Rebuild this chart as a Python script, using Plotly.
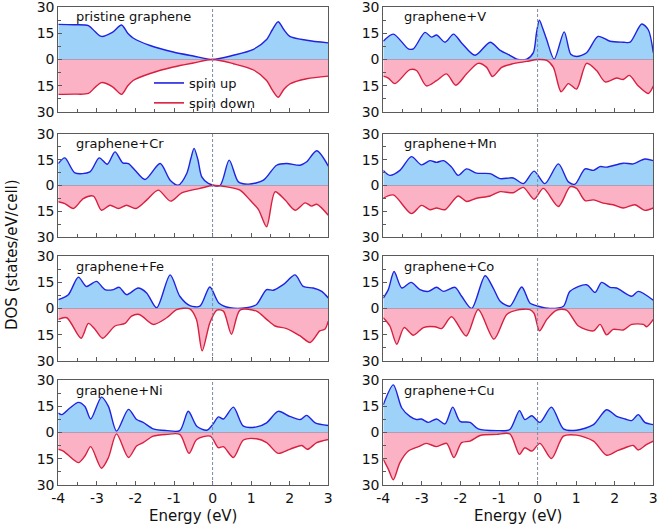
import plotly.graph_objects as go

# ---------------- data (energy in eV, DOS in states/eV/cell) ----------------
pg_up_e = [-4, -3.6, -3.22, -3.05, -2.88, -2.6, -2.36, -2.2, -2.06, -1.62, -1.02, -0.5, 0, 0.54, 1.06, 1.4, 1.55, 1.7, 1.85, 2.0, 2.44, 3]
pg_up_dos = [20.1, 19.9, 19.4, 16, 13.2, 15.5, 19.7, 15, 12.3, 8, 4.3, 2, 0, 2.4, 5.8, 11.4, 17, 21.6, 17, 13.2, 11, 9.5]
pg_dn_e = [-4, -3.6, -3.22, -3.05, -2.88, -2.6, -2.36, -2.2, -2.06, -1.62, -1.02, -0.5, 0, 0.54, 1.06, 1.4, 1.55, 1.7, 1.85, 2.0, 2.44, 3]
pg_dn_dos = [-19.9, -19.8, -19.4, -16, -13.2, -15.5, -19.9, -15, -12, -8, -4.3, -2, 0, -2.4, -6, -12, -17.5, -21.6, -17, -14, -11, -9.5]

v_up_e = [-4, -3.74, -3.35, -3.22, -2.92, -2.75, -2.62, -2.4, -2.18, -1.97, -1.62, -1.23, -0.97, -0.72, -0.54, -0.28, -0.11, -0.03, 0.045, 0.13, 0.235, 0.43, 0.69, 0.86, 1.01, 1.27, 1.57, 1.88, 2.22, 2.4, 2.7, 2.87, 3.0]
v_up_dos = [10.4, 14.5, 6.1, 6.1, 15.5, 12.8, 14, 9.9, 14.5, 9.5, 2.4, 9.9, 5.2, 2.4, 0.2, 0.2, 3.9, 15, 22.5, 18, 11.4, 0.2, 15.8, 3, 1.7, 3.9, 13.2, 10.4, 9.9, 9.9, 20.3, 17, 3.9]
v_dn_e = [-4, -3.87, -3.7, -3.31, -3.14, -2.88, -2.62, -2.36, -2.12, -1.84, -1.54, -1.32, -1.17, -0.93, -0.67, -0.28, 0.0, 0.24, 0.41, 0.61, 0.8, 1.01, 1.27, 1.53, 1.75, 2.05, 2.22, 2.38, 2.61, 2.87, 3.0]
v_dn_dos = [-9.5, -10.6, -13.8, -5.8, -6.3, -15.1, -12.1, -8.2, -14.7, -8.2, -2.2, -4.5, -9.7, -4.5, -2.6, -1.1, 0, -0.5, -4.5, -18.4, -13.8, -16.9, -2.2, -6.3, -12.8, -10.6, -11.4, -9.1, -15.1, -19.4, -15.1]

cr_up_e = [-4, -3.83, -3.57, -3.18, -2.94, -2.73, -2.53, -2.33, -2.18, -2.01, -1.75, -1.36, -1.1, -0.89, -0.67, -0.56, -0.48, -0.38, -0.28, -0.11, 0.19, 0.43, 0.67, 0.93, 1.32, 1.66, 1.92, 2.27, 2.44, 2.7, 3.0]
cr_up_dos = [12.8, 16.1, 7.4, 8, 16.1, 12.4, 19.6, 13.2, 12.8, 8.9, 3.5, 12.8, 3.1, 0.2, 7, 16, 21.6, 15, 5, 1.2, 0, 14.8, 2.1, 0.8, 3.1, 11.8, 12.8, 11.8, 13.8, 20.2, 11.3]
cr_dn_e = [-4, -3.83, -3.61, -3.35, -3.09, -2.88, -2.66, -2.44, -2.23, -1.99, -1.71, -1.41, -1.09, -0.8, -0.33, 0, 0.37, 0.71, 0.97, 1.19, 1.4, 1.62, 1.88, 2.14, 2.4, 2.57, 2.7, 3.0]
cr_dn_dos = [-9.5, -10.5, -13.4, -7.6, -6.2, -14.4, -11.5, -13.4, -11.5, -13.4, -8.5, -2.7, -9.1, -4.3, -1.7, 0, -0.8, -2.7, -8.5, -14, -24, -3.7, -8.5, -14.4, -10.1, -12, -10.9, -17.3]

mn_up_e = [-4, -3.83, -3.57, -3.27, -3.01, -2.79, -2.62, -2.44, -2.23, -2.06, -1.84, -1.58, -1.23, -0.97, -0.63, -0.37, -0.09, 0.19, 0.54, 0.8, 0.97, 1.23, 1.45, 1.62, 1.79, 2.22, 2.48, 2.78, 3.0]
mn_up_dos = [8.8, 5.9, 8.8, 16.8, 12, 14.5, 13.5, 14.5, 10.7, 5.9, 9.7, 7.2, 6.9, 4, 4.4, 1.1, 8.4, 1.1, 12.6, 2.1, 0.8, 9.7, 8.8, 11, 10.7, 13, 12.6, 15.4, 14.5]
mn_dn_e = [-4, -3.74, -3.27, -3.01, -2.79, -2.62, -2.4, -2.06, -1.84, -1.58, -1.23, -0.97, -0.63, -0.37, -0.09, 0.15, 0.54, 0.84, 1.01, 1.23, 1.45, 1.7, 1.96, 2.22, 2.52, 2.78, 3.0]
mn_dn_dos = [-7.4, -5.5, -16.4, -11.6, -14.1, -13.1, -14.1, -6.1, -9.3, -7.4, -6.1, -3.6, -4.2, -1.1, -8, -1.7, -12.2, -0.8, -1.7, -8.8, -8.4, -10.3, -11.2, -13.1, -11.2, -14.5, -13.1]

fe_up_e = [-4, -3.74, -3.48, -3.27, -3.01, -2.79, -2.57, -2.42, -2.23, -1.93, -1.71, -1.45, -1.1, -0.85, -0.59, -0.33, -0.07, 0.16, 0.45, 0.88, 1.14, 1.4, 1.57, 1.83, 2.14, 2.35, 2.61, 2.83, 3.0]
fe_up_dos = [5.1, 7.9, 17.9, 12.6, 15.5, 10.8, 10.8, 12.1, 7.9, 11.7, 8.9, 0.4, 19.2, 7, 1.7, 1.3, 12.3, 3.2, 0.4, 0.4, 2.3, 10.8, 10.4, 13.6, 19.2, 12.6, 11.7, 9.8, 6]
fe_dn_e = [-4, -3.78, -3.41, -3.22, -3.05, -2.85, -2.53, -2.27, -2.1, -1.9, -1.54, -1.19, -0.93, -0.59, -0.42, -0.27, -0.07, 0.11, 0.28, 0.49, 0.71, 1.14, 1.4, 1.62, 1.92, 2.27, 2.53, 2.78, 2.91, 3.0]
fe_dn_dos = [-6.2, -5.3, -17, -8.5, -11.9, -17, -10, -8.5, -4.3, -3.4, -9.1, -5.3, -0.6, -0.2, -6.2, -24.2, -8.1, -0.9, -1.5, -14.7, -0.9, -1.5, -6.2, -10, -11.5, -15.7, -19.4, -12.8, -11.9, -7.2]

co_up_e = [-4, -3.87, -3.72, -3.52, -3.28, -3.05, -2.83, -2.62, -2.44, -2.14, -1.97, -1.71, -1.36, -1.15, -0.97, -0.72, -0.41, -0.2, 0.02, 0.32, 0.67, 0.84, 1.27, 1.49, 1.66, 1.88, 2.05, 2.44, 2.61, 3.0]
co_up_dos = [6, 10.8, 21.1, 11.7, 14.9, 10.8, 9.8, 12.1, 9.8, 12.1, 7, 0, 18.7, 11.7, 4.2, 1.3, 12.3, 3.2, 1.3, 0, 1.3, 9.8, 13.6, 9.2, 14.9, 12.1, 11.7, 7, 9.8, 4.7]
co_dn_e = [-4, -3.83, -3.65, -3.46, -3.22, -2.96, -2.66, -2.49, -2.23, -1.85, -1.54, -1.13, -0.8, -0.54, -0.2, -0.09, 0.05, 0.24, 0.5, 0.75, 1.06, 1.45, 1.62, 1.79, 1.96, 2.22, 2.44, 2.74, 2.83, 3.0]
co_dn_dos = [-5.3, -10, -20.4, -10.9, -15.3, -10.9, -10.4, -11.5, -4.7, -15.7, -0.6, -17.5, -3.4, -0.9, -0.6, -2.8, -12.8, -6.2, -0.9, -0.9, -10, -12.8, -9.1, -15.1, -11.9, -12.3, -9.1, -9.1, -10.4, -6.2]

ni_up_e = [-4, -3.91, -3.7, -3.48, -3.31, -3.16, -2.88, -2.7, -2.49, -2.18, -1.97, -1.8, -1.54, -1.19, -0.85, -0.63, -0.41, -0.15, 0, 0.15, 0.28, 0.54, 0.8, 1.14, 1.4, 1.7, 2.0, 2.27, 2.44, 2.66, 3.0]
ni_up_dos = [11.1, 10.2, 14, 17.2, 14.9, 7.7, 20.2, 14.9, 0.8, 13.2, 7.4, 5.8, 2.1, 1.1, 1.1, 12.1, 3.6, 1.3, 4.5, 8.9, 7.7, 14.5, 3.6, 3.2, 5.5, 12.1, 9.2, 7.4, 9.8, 5.5, 4]
ni_dn_e = [-4, -3.87, -3.48, -3.31, -3.16, -2.88, -2.7, -2.49, -2.18, -1.97, -1.8, -1.54, -1.19, -0.85, -0.61, -0.41, -0.06, 0.15, 0.28, 0.54, 0.8, 1.14, 1.4, 1.7, 2.0, 2.31, 2.46, 2.7, 3.0]
ni_dn_dos = [-9.6, -10.6, -17.2, -13.4, -8.1, -20.4, -14.3, -0.8, -14.3, -7.7, -5.8, -2.1, -1.1, -1.1, -11.9, -4, -2.1, -8.7, -8.1, -14.3, -4.3, -3.6, -5.8, -11.9, -9.6, -7.4, -9.6, -5.8, -4]

cu_up_e = [-4, -3.74, -3.52, -3.31, -3.14, -3.01, -2.83, -2.62, -2.4, -2.2, -2.01, -1.75, -1.54, -1.06, -0.72, -0.47, -0.33, -0.15, 0.06, 0.36, 0.67, 1.01, 1.45, 1.79, 2.05, 2.27, 2.44, 2.61, 2.78, 3.0]
cu_up_dos = [15.8, 27.2, 14, 9.2, 7.4, 7.7, 5.8, 7.7, 4.9, 14.5, 6.4, 5.8, 2.1, 1.1, 1.7, 12.5, 7.4, 9.6, 5.8, 14.5, 2.1, 1.3, 4.5, 13, 9.2, 7.7, 6.8, 10.2, 5.8, 4.5]
cu_dn_e = [-4, -3.87, -3.74, -3.57, -3.35, -3.09, -2.88, -2.62, -2.36, -2.17, -1.97, -1.75, -1.49, -1.06, -0.72, -0.47, -0.33, -0.15, 0.06, 0.36, 0.67, 1.01, 1.45, 1.79, 2.05, 2.27, 2.48, 2.61, 2.83, 3.0]
cu_dn_dos = [-15.3, -20.9, -27, -17.2, -10.6, -8.1, -6.2, -8.1, -6.2, -14.3, -5.8, -4.9, -1.7, -1.1, -0.8, -12.5, -8.7, -10.6, -6.2, -14.9, -2.1, -1.5, -4.9, -13, -10.6, -8.7, -7.4, -10, -6.8, -4.9]

panel_labels = ["pristine graphene", "graphene+V", "graphene+Cr", "graphene+Mn",
                "graphene+Fe", "graphene+Co", "graphene+Ni", "graphene+Cu"]
x_tickvals = [-4, -3, -2, -1, 0, 1, 2, 3]
x_ticktext = ["-4", "-3", "-2", "-1", "0", "1", "2", "3"]
y_tickvals = [-30, -15, 0, 15, 30]
y_ticktext = ["30", "15", "0", "15", "30"]

panels = [
    (pg_up_e, pg_up_dos, pg_dn_e, pg_dn_dos),
    (v_up_e, v_up_dos, v_dn_e, v_dn_dos),
    (cr_up_e, cr_up_dos, cr_dn_e, cr_dn_dos),
    (mn_up_e, mn_up_dos, mn_dn_e, mn_dn_dos),
    (fe_up_e, fe_up_dos, fe_dn_e, fe_dn_dos),
    (co_up_e, co_up_dos, co_dn_e, co_dn_dos),
    (ni_up_e, ni_up_dos, ni_dn_e, ni_dn_dos),
    (cu_up_e, cu_up_dos, cu_dn_e, cu_dn_dos),
]

# ---------------- styling / layout ----------------
W, H = 661, 526
FONT = "DejaVu Sans"
UP_LINE, UP_FILL = "#1f22e0", "rgba(158,210,248,1)"
DN_LINE, DN_FILL = "#d81f3f", "rgba(251,178,196,1)"
FRAME = "#5a5a5a"

col_px = [(58.3, 328.3), (383.3, 653.3)]
row_px = [(7, 112), (134, 237), (256, 361), (380, 485)]

fig = go.Figure()
layout = dict(
    width=W, height=H, margin=dict(l=0, r=0, t=0, b=0, pad=0),
    paper_bgcolor="white", plot_bgcolor="white", template="none",
    font=dict(family=FONT, size=14, color="#111"),
    showlegend=True,
    legend=dict(x=149 / W, y=1 - 68 / H, xanchor="left", yanchor="top",
                bgcolor="rgba(0,0,0,0)", font=dict(size=13, family=FONT),
                itemwidth=30, tracegroupgap=0),
)
annotations = []
shapes = []

minor_x = [-3.5, -2.5, -1.5, -0.5, 0.5, 1.5, 2.5]
minor_y = [-22.5, -7.5, 7.5, 22.5]

for i, (ue, ud, de, dd) in enumerate(panels):
    r, c = divmod(i, 2)
    n = i + 1
    xa = "x" if n == 1 else f"x{n}"
    ya = "y" if n == 1 else f"y{n}"
    x0, x1 = col_px[c]
    t, b = row_px[r]
    bottom = (r == 3)
    layout[f"xaxis{'' if n == 1 else n}"] = dict(
        domain=[x0 / W, x1 / W], anchor=ya, range=[-4, 3],
        showline=True, linecolor=FRAME, linewidth=1, mirror=True,
        showgrid=False, zeroline=False,
        tickmode="array", tickvals=x_tickvals, ticktext=x_ticktext,
        ticks="inside", ticklen=4, tickcolor=FRAME,
        minor=dict(tickvals=minor_x, ticks="inside", ticklen=3, tickcolor=FRAME),
        showticklabels=bottom, tickfont=dict(size=14, family=FONT, color="#111"),
        ticklabeloverflow="allow",
        automargin=False, layer="above traces",
    )
    layout[f"yaxis{'' if n == 1 else n}"] = dict(
        domain=[(H - b) / H, (H - t) / H], anchor=xa, range=[-30, 30],
        showline=True, linecolor=FRAME, linewidth=1, mirror=True,
        showgrid=False, zeroline=True, zerolinecolor="#34374d", zerolinewidth=1,
        tickmode="array", tickvals=y_tickvals, ticktext=y_ticktext,
        ticks="inside", ticklen=4, tickcolor=FRAME,
        minor=dict(tickvals=minor_y, ticks="inside", ticklen=3, tickcolor=FRAME),
        tickfont=dict(size=14, family=FONT, color="#111"),
        ticklabeloverflow="allow",
        automargin=False, layer="above traces",
    )
    fig.add_trace(go.Scatter(x=ue, y=ud, xaxis=xa, yaxis=ya, mode="lines",
                             line=dict(color=UP_LINE, width=1.4, shape="spline", smoothing=0.8),
                             fill="tozeroy", fillcolor=UP_FILL, showlegend=False,
                             hoverinfo="skip"))
    fig.add_trace(go.Scatter(x=de, y=dd, xaxis=xa, yaxis=ya, mode="lines",
                             line=dict(color=DN_LINE, width=1.4, shape="spline", smoothing=0.8),
                             fill="tozeroy", fillcolor=DN_FILL, showlegend=False,
                             hoverinfo="skip"))
    shapes.append(dict(type="line", xref=xa, yref=f"{ya} domain", x0=0, x1=0, y0=0, y1=1,
                       line=dict(color="#7d8aa3", width=1, dash="3px,2px"), layer="above"))
    off = 16 if c == 0 else 19
    annotations.append(dict(text=panel_labels[i], xref=f"{xa} domain", yref=f"{ya} domain",
                            x=off / 270, y=1 - 10 / 105, xanchor="left", yanchor="middle",
                            showarrow=False, font=dict(size=13, family=FONT, color="#111")))
    if bottom:
        annotations.append(dict(text="Energy (eV)", xref=f"{xa} domain", yref="paper",
                                x=0.5, y=(H - 516) / H, xanchor="center", yanchor="middle",
                                showarrow=False, font=dict(size=15, family=FONT, color="#111")))

# legend entries (spin up / spin down)
fig.add_trace(go.Scatter(x=[None], y=[None], mode="lines", name="spin up",
                         line=dict(color=UP_LINE, width=1.6)))
fig.add_trace(go.Scatter(x=[None], y=[None], mode="lines", name="spin down",
                         line=dict(color=DN_LINE, width=1.6)))

annotations.append(dict(text="DOS (states/eV/cell)", xref="paper", yref="paper",
                        x=12 / W, y=(H - 255) / H, xanchor="center", yanchor="middle",
                        textangle=-90, showarrow=False,
                        font=dict(size=15, family=FONT, color="#111")))

layout["annotations"] = annotations
layout["shapes"] = shapes
fig.update_layout(**layout)
fig.write_html("out.html", config={"displayModeBar": False},
               post_script="document.body.style.margin='0';document.body.style.overflow='hidden';")
